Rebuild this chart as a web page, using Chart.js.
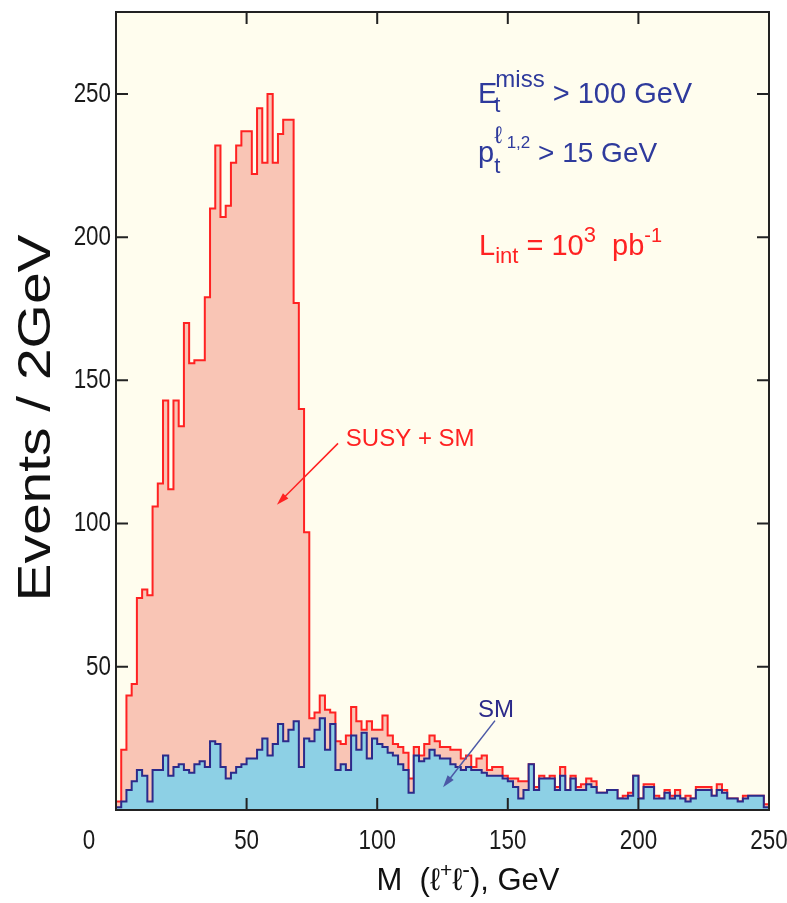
<!DOCTYPE html>
<html>
<head>
<meta charset="utf-8">
<script src="https://cdn.jsdelivr.net/npm/chart.js@4.4.1/dist/chart.umd.min.js"></script>
<style>
  html, body { margin: 0; padding: 0; background: #fff; overflow: hidden; }
  #wrap { width: 810px; height: 903px; }
</style>
</head>
<body>
<div id="wrap"><canvas id="mass" width="810" height="903"></canvas></div>
<script>
// dilepton invariant mass, 2 GeV bins from 0 to 250 GeV
const binWidth = 2;

const susySM = [
  3, 21, 40, 44, 74, 77, 75, 106, 114, 143,
  112, 143, 134, 170, 156, 157, 157, 179, 210, 232,
  207, 211, 226, 232, 237, 237, 222, 245, 226, 250,
  226, 236, 241, 241, 177, 140, 97, 32, 34, 40,
  35, 34, 24, 23, 26, 36, 31, 28, 31, 28,
  28, 33, 26, 23, 22, 20, 11, 22, 19, 23,
  26, 24, 22, 22, 21, 21, 18, 19, 15, 18,
  19, 14, 15, 15, 12, 11, 11, 10, 10, 16,
  8, 12, 11, 12, 8, 15, 7, 12, 8, 9,
  11, 10, 6, 6, 7, 7, 4, 5, 6, 12,
  4, 9, 9, 5, 4, 7, 5, 7, 4, 5,
  4, 8, 8, 8, 5, 9, 7, 4, 4, 3,
  5, 5, 5, 5, 2
];

const smOnly = [
  1, 3, 7, 10, 14, 12, 3, 14, 14, 19,
  12, 15, 16, 14, 13, 16, 17, 15, 24, 23,
  15, 11, 13, 15, 16, 18, 18, 21, 25, 19,
  23, 30, 24, 28, 31, 15, 25, 24, 28, 32,
  21, 30, 14, 16, 14, 26, 21, 27, 18, 25,
  23, 22, 20, 19, 16, 14, 6, 19, 17, 18,
  21, 19, 18, 18, 16, 15, 14, 15, 14, 14,
  13, 12, 12, 12, 11, 10, 8, 4, 7, 16,
  7, 11, 11, 11, 7, 12, 7, 11, 7, 7,
  9, 8, 6, 6, 7, 7, 4, 4, 5, 12,
  4, 8, 8, 4, 4, 6, 4, 5, 4, 3,
  4, 7, 7, 7, 5, 7, 6, 4, 4, 3,
  4, 5, 5, 5, 1
];

const xTicks = [0, 50, 100, 150, 200, 250];
const yTicks = [50, 100, 150, 200, 250];

const sansFont = '"Liberation Sans", Arial, sans-serif';
const red = '#ff2222';
const navy = '#2c2a8a';
const textBlue = '#2e3a9c';

// bin i covers [2i, 2i+2]; one extra point closes the last bin
function toSteps(values) {
  const pts = values.map((v, i) => ({ x: i * binWidth, y: v }));
  pts.push({ x: values.length * binWidth, y: values[values.length - 1] });
  return pts;
}

// cream plot area
const plotBackground = {
  id: 'plotBackground',
  beforeDraw(chart) {
    const { ctx, chartArea: a } = chart;
    ctx.save();
    ctx.fillStyle = '#fffdee';
    ctx.fillRect(a.left, a.top, a.right - a.left, a.bottom - a.top);
    ctx.restore();
  }
};

// frame with inward ticks on all four sides, plus narrow tick labels
const frame = {
  id: 'frame',
  afterDatasetsDraw(chart) {
    const { ctx, chartArea: a, scales } = chart;
    const len = 12;
    ctx.save();
    ctx.strokeStyle = '#222';
    ctx.lineWidth = 2;
    ctx.beginPath();
    xTicks.slice(1, -1).forEach(v => {
      const px = scales.x.getPixelForValue(v);
      ctx.moveTo(px, a.bottom); ctx.lineTo(px, a.bottom - len);
      ctx.moveTo(px, a.top); ctx.lineTo(px, a.top + len);
    });
    yTicks.forEach(v => {
      const py = scales.y.getPixelForValue(v);
      ctx.moveTo(a.left, py); ctx.lineTo(a.left + len, py);
      ctx.moveTo(a.right, py); ctx.lineTo(a.right - len, py);
    });
    ctx.stroke();
    ctx.strokeRect(a.left, a.top, a.right - a.left, a.bottom - a.top);

    // tick labels, squeezed sideways like the narrow face of the original
    const squeeze = 0.8;
    ctx.fillStyle = '#1a1a1a';
    ctx.font = '28px ' + sansFont;
    ctx.textBaseline = 'middle';
    ctx.textAlign = 'right';
    yTicks.forEach(v => {
      ctx.save();
      ctx.translate(a.left - 5, scales.y.getPixelForValue(v));
      ctx.scale(squeeze, 1);
      ctx.fillText(String(v), 0, 0);
      ctx.restore();
    });
    ctx.textAlign = 'center';
    xTicks.forEach(v => {
      // the zero label sits left of the frame in the original
      const px = v === 0 ? a.left - 27 : scales.x.getPixelForValue(v);
      ctx.save();
      ctx.translate(px, a.bottom + 31);
      ctx.scale(squeeze, 1);
      ctx.fillText(String(v), 0, 0);
      ctx.restore();
    });
    ctx.restore();
  }
};

// text pieces with sub/superscripts; adv:false keeps the pen where it is
function drawRich(ctx, x, y, parts, color) {
  ctx.fillStyle = color;
  ctx.textBaseline = 'alphabetic';
  ctx.textAlign = 'left';
  let pen = x;
  parts.forEach(p => {
    ctx.font = p.size + 'px ' + sansFont;
    ctx.fillText(p.t, pen + (p.dx || 0), y + (p.dy || 0));
    if (p.adv !== false) pen += ctx.measureText(p.t).width + (p.dx || 0);
  });
}

function arrow(ctx, x1, y1, x2, y2, color) {
  const ang = Math.atan2(y2 - y1, x2 - x1);
  const head = 13;
  ctx.strokeStyle = color;
  ctx.fillStyle = color;
  ctx.lineWidth = 1.5;
  ctx.beginPath();
  ctx.moveTo(x1, y1);
  ctx.lineTo(x2 - head * 0.8 * Math.cos(ang), y2 - head * 0.8 * Math.sin(ang));
  ctx.stroke();
  ctx.beginPath();
  ctx.moveTo(x2, y2);
  ctx.lineTo(x2 - head * Math.cos(ang - 0.3), y2 - head * Math.sin(ang - 0.3));
  ctx.lineTo(x2 - head * Math.cos(ang + 0.3), y2 - head * Math.sin(ang + 0.3));
  ctx.closePath();
  ctx.fill();
}

const annotations = {
  id: 'annotations',
  afterDraw(chart) {
    const { ctx, scales: { x, y } } = chart;
    const px = v => x.getPixelForValue(v);
    const py = v => y.getPixelForValue(v);
    ctx.save();

    drawRich(ctx, px(138.6), py(246.9), [
      { t: 'E', size: 29 },
      { t: 't', size: 22, dy: 9, dx: -3, adv: false },
      { t: 'miss', size: 24, dy: -16, dx: -2 },
      { t: ' > 100 GeV', size: 29 }
    ], textBlue);

    drawRich(ctx, px(138.6), py(226.3), [
      { t: 'p', size: 29 },
      { t: 't', size: 22, dy: 11, adv: false },
      { t: 'ℓ', size: 24, dy: -19 },
      { t: ' 1,2', size: 17, dy: -14 },
      { t: ' > 15 GeV', size: 28 }
    ], textBlue);

    drawRich(ctx, px(139), py(193.9), [
      { t: 'L', size: 29 },
      { t: 'int', size: 22, dy: 8 },
      { t: ' = 10', size: 29 },
      { t: '3', size: 22, dy: -13 },
      { t: '  pb', size: 29 },
      { t: '-1', size: 20, dy: -13 }
    ], red);

    drawRich(ctx, px(88), py(127.2), [{ t: 'SUSY + SM', size: 24 }], red);
    arrow(ctx, px(85), py(128), px(61.6), py(106.6), red);

    drawRich(ctx, px(138.6), py(32.3), [{ t: 'SM', size: 24 }], navy);
    arrow(ctx, px(145.1), py(31.2), px(125.2), py(7.9), '#4b58a6');

    // axis titles
    ctx.fillStyle = '#111';
    ctx.font = '46px ' + sansFont;
    ctx.textAlign = 'center';
    ctx.textBaseline = 'middle';
    const yTitle = 'Events / 2GeV';
    const sx = 367 / ctx.measureText(yTitle).width;
    ctx.save();
    ctx.translate(37, 418);
    ctx.rotate(-Math.PI / 2);
    ctx.scale(sx, 1);
    ctx.fillText(yTitle, 0, 0);
    ctx.restore();

    const parts = [
      { t: 'M  (ℓ', size: 31 },
      { t: '+', size: 21, dy: -13 },
      { t: 'ℓ', size: 31 },
      { t: '-', size: 23, dy: -13 },
      { t: '), GeV', size: 31 }
    ];
    let w = 0;
    parts.forEach(p => { ctx.font = p.size + 'px ' + sansFont; w += ctx.measureText(p.t).width; });
    drawRich(ctx, 468 - w / 2, 890, parts, '#111');

    ctx.restore();
  }
};

new Chart(document.getElementById('mass'), {
  type: 'line',
  data: {
    datasets: [
      {
        label: 'SUSY + SM',
        data: toSteps(susySM),
        stepped: true,
        borderColor: red,
        borderWidth: 2,
        backgroundColor: '#f9c5b5',
        fill: 'origin',
        pointRadius: 0,
        order: 2
      },
      {
        label: 'SM',
        data: toSteps(smOnly),
        stepped: true,
        borderColor: navy,
        borderWidth: 2,
        backgroundColor: '#8dd0e5',
        fill: 'origin',
        pointRadius: 0,
        order: 1
      }
    ]
  },
  options: {
    responsive: false,
    animation: false,
    layout: { padding: { top: 12, right: 41, left: 0, bottom: 0 } },
    plugins: {
      legend: { display: false },
      tooltip: { enabled: false }
    },
    scales: {
      x: {
        type: 'linear',
        min: 0,
        max: 250,
        grid: { display: false, drawTicks: false },
        border: { display: false },
        ticks: { display: false, stepSize: 50 },
        afterFit(scale) {
          scale.height = 93;
          scale.paddingLeft = 0;
          scale.paddingRight = 0;
        }
      },
      y: {
        min: 0,
        max: 278.6,
        grid: { display: false, drawTicks: false },
        border: { display: false },
        ticks: { display: false, stepSize: 50, includeBounds: false },
        afterFit(scale) {
          scale.width = 116;
          scale.paddingTop = 0;
          scale.paddingBottom = 0;
        }
      }
    }
  },
  plugins: [plotBackground, frame, annotations]
});
</script>
</body>
</html>
